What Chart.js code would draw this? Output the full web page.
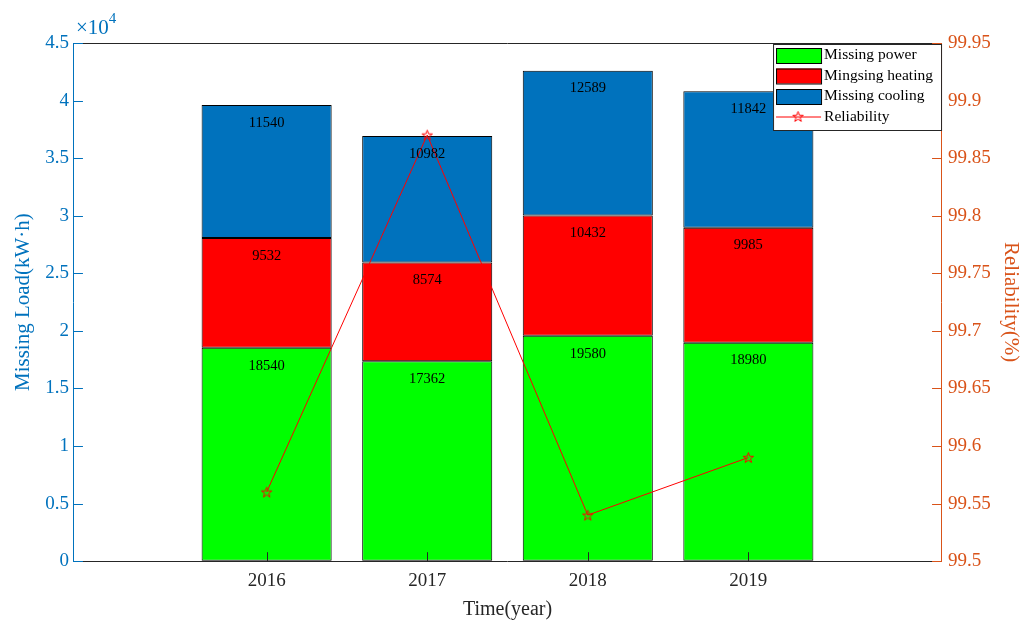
<!DOCTYPE html>
<html>
<head>
<meta charset="utf-8">
<script src="https://cdn.jsdelivr.net/npm/chart.js@4.4.0/dist/chart.umd.min.js"></script>
<style>
  html, body { margin: 0; padding: 0; background: #fff; }
  #wrap { width: 1023px; height: 622px; }
</style>
</head>
<body>
<div id="wrap"><canvas id="c"></canvas></div>
<script>
// data
const years = [2016, 2017, 2018, 2019];
const missingPower = [18540, 17362, 19580, 18980];
const missingHeating = [9532, 8574, 10432, 9985];
const missingCooling = [11540, 10982, 12589, 11842];
const reliability = [99.56, 99.87, 99.54, 99.59];
const leftTicks = [0, 5000, 10000, 15000, 20000, 25000, 30000, 35000, 40000, 45000];
const rightTicks = [99.5, 99.55, 99.6, 99.65, 99.7, 99.75, 99.8, 99.85, 99.9, 99.95];

const BLUE = "#0072BD";
const ORANGE = "#D95319";
const FONT = "'Liberation Serif', 'DejaVu Serif', serif";

// five-pointed star marker, MATLAB style
function makeStar(size, color) {
  const cv = document.createElement("canvas");
  cv.width = size; cv.height = size;
  const g = cv.getContext("2d");
  const cx = size / 2, cy = size / 2 + 0.5, ro = size / 2 - 1, ri = ro * 0.4;
  g.beginPath();
  for (let i = 0; i < 10; i++) {
    const r = i % 2 === 0 ? ro : ri;
    const a = -Math.PI / 2 + i * Math.PI / 5;
    const px = cx + r * Math.cos(a), py = cy + r * Math.sin(a);
    if (i === 0) g.moveTo(px, py); else g.lineTo(px, py);
  }
  g.closePath();
  g.strokeStyle = color;
  g.lineWidth = 1;
  g.stroke();
  return cv;
}
const starImg = makeStar(13, "#FF0000");

const pts = arr => arr.map((v, i) => ({ x: years[i], y: v }));

// segment value labels, drawn a bit below the top of each segment
const valueLabels = {
  id: "valueLabels",
  afterDatasetsDraw(chart) {
    const { ctx } = chart;
    const ys = chart.scales.y, xs = chart.scales.x;
    const series = [missingPower, missingHeating, missingCooling];
    ctx.save();
    ctx.font = "14.5px " + FONT;
    ctx.fillStyle = "#000";
    ctx.textAlign = "center";
    ctx.textBaseline = "middle";
    years.forEach((yr, i) => {
      let cum = 0;
      series.forEach(s => {
        cum += s[i];
        ctx.fillText(String(s[i]), xs.getPixelForValue(yr), ys.getPixelForValue(cum) + 18);
      });
    });
    ctx.restore();
  }
};

// MATLAB-like box, inward ticks, exponent and legend
const axesDecor = {
  id: "axesDecor",
  afterDraw(chart) {
    const { ctx, chartArea: a } = chart;
    const xs = chart.scales.x, ys = chart.scales.y, y1 = chart.scales.y1;
    ctx.save();
    ctx.lineWidth = 1;
    // top border
    ctx.strokeStyle = "#262626";
    ctx.beginPath();
    ctx.moveTo(a.left, a.top + 0.5); ctx.lineTo(a.right, a.top + 0.5);
    ctx.stroke();
    // x ticks
    ctx.beginPath();
    years.forEach(v => {
      const px = Math.round(xs.getPixelForValue(v)) + 0.5;
      ctx.moveTo(px, a.bottom); ctx.lineTo(px, a.bottom - 9);
    });
    ctx.stroke();
    // left ticks
    ctx.strokeStyle = BLUE;
    ctx.beginPath();
    leftTicks.forEach(v => {
      const py = Math.round(ys.getPixelForValue(v)) + 0.5;
      ctx.moveTo(a.left, py); ctx.lineTo(a.left + 9, py);
    });
    ctx.stroke();
    // right ticks
    ctx.strokeStyle = ORANGE;
    ctx.beginPath();
    rightTicks.forEach(v => {
      const py = Math.round(y1.getPixelForValue(v)) + 0.5;
      ctx.moveTo(a.right, py); ctx.lineTo(a.right - 9, py);
    });
    ctx.stroke();

    // exponent label
    ctx.fillStyle = BLUE;
    ctx.textBaseline = "alphabetic";
    ctx.textAlign = "left";
    ctx.font = "21px " + FONT;
    ctx.fillText("\u00d710", a.left + 2, a.top - 9);
    const w = ctx.measureText("\u00d710").width;
    ctx.font = "15px " + FONT;
    ctx.fillText("4", a.left + 2 + w, a.top - 20);

    // legend box
    const lx = a.right - 168, ly = a.top + 1, lw = 168, lh = 86;
    ctx.fillStyle = "#fff";
    ctx.fillRect(lx, ly, lw, lh);
    ctx.strokeStyle = "#262626";
    ctx.strokeRect(lx + 0.5, ly + 0.5, lw, lh);
    const items = [
      { label: "Missing power", color: "#00FF00" },
      { label: "Mingsing heating", color: "#FF0000" },
      { label: "Missing cooling", color: BLUE },
      { label: "Reliability", line: true }
    ];
    ctx.font = "15.5px " + FONT;
    ctx.textBaseline = "middle";
    items.forEach((it, i) => {
      const cy = ly + 11 + i * 20.5;
      if (it.line) {
        ctx.strokeStyle = "#FF0000";
        ctx.beginPath();
        ctx.moveTo(lx + 3, cy + 0.5); ctx.lineTo(lx + 48, cy + 0.5);
        ctx.stroke();
        ctx.drawImage(starImg, lx + 25 - 6.5, cy - 6.5);
      } else {
        ctx.fillStyle = it.color;
        ctx.fillRect(lx + 3, cy - 7, 45, 15);
        ctx.strokeStyle = "#000";
        ctx.strokeRect(lx + 3.5, cy - 6.5, 45, 15);
      }
      ctx.fillStyle = "#000";
      ctx.fillText(it.label, lx + 51, cy);
    });
    ctx.restore();
  }
};

const barStyle = {
  type: "bar",
  yAxisID: "y",
  borderColor: "#000",
  borderWidth: 1,
  borderSkipped: false,
  categoryPercentage: 1,
  barPercentage: 0.81,
  order: 1
};

new Chart(document.getElementById("c"), {
  data: {
    datasets: [
      {
        type: "line",
        label: "Reliability",
        data: pts(reliability),
        yAxisID: "y1",
        borderColor: "#FF0000",
        borderWidth: 1,
        pointStyle: starImg,
        tension: 0,
        order: 0
      },
      Object.assign({ label: "Missing power", data: pts(missingPower), backgroundColor: "#00FF00" }, barStyle),
      Object.assign({ label: "Mingsing heating", data: pts(missingHeating), backgroundColor: "#FF0000" }, barStyle),
      Object.assign({ label: "Missing cooling", data: pts(missingCooling), backgroundColor: BLUE }, barStyle)
    ]
  },
  options: {
    responsive: true,
    maintainAspectRatio: false,
    animation: false,
    layout: { padding: { left: 11, right: 0, top: 43, bottom: 0 } },
    plugins: {
      legend: { display: false },
      tooltip: { enabled: false }
    },
    scales: {
      x: {
        type: "linear",
        stacked: true,
        offset: false,
        min: 2014.8,
        max: 2020.2,
        afterBuildTicks: s => { s.ticks = years.map(v => ({ value: v })); },
        grid: { drawOnChartArea: false, drawTicks: false, offset: false },
        border: { color: "#262626" },
        ticks: { color: "#262626", font: { family: FONT, size: 19 }, padding: 8, callback: v => String(v) },
        title: { display: true, text: "Time(year)", color: "#262626", font: { family: FONT, size: 20 }, padding: { top: -2, bottom: 0 } }
      },
      y: {
        type: "linear",
        position: "left",
        stacked: true,
        min: 0,
        max: 45000,
        afterBuildTicks: s => { s.ticks = leftTicks.map(v => ({ value: v })); },
        grid: { drawOnChartArea: false, drawTicks: false },
        border: { color: BLUE },
        ticks: { color: BLUE, font: { family: FONT, size: 19 }, padding: 5, callback: v => String(v / 10000) },
        title: { display: true, text: "Missing Load(kW\u00b7h)", color: BLUE, font: { family: FONT, size: 21 }, padding: { top: 0, bottom: 4 } }
      },
      y1: {
        type: "linear",
        position: "right",
        min: 99.5,
        max: 99.95,
        afterBuildTicks: s => { s.ticks = rightTicks.map(v => ({ value: v })); },
        grid: { drawOnChartArea: false, drawTicks: false },
        border: { color: ORANGE },
        ticks: { color: ORANGE, font: { family: FONT, size: 19 }, padding: 7, callback: v => String(Math.round(v * 100) / 100) },
        title: { display: true, text: "Reliability(%)", color: ORANGE, font: { family: FONT, size: 21 }, padding: { top: 0, bottom: 0 } }
      }
    }
  },
  plugins: [valueLabels, axesDecor]
});
</script>
</body>
</html>
